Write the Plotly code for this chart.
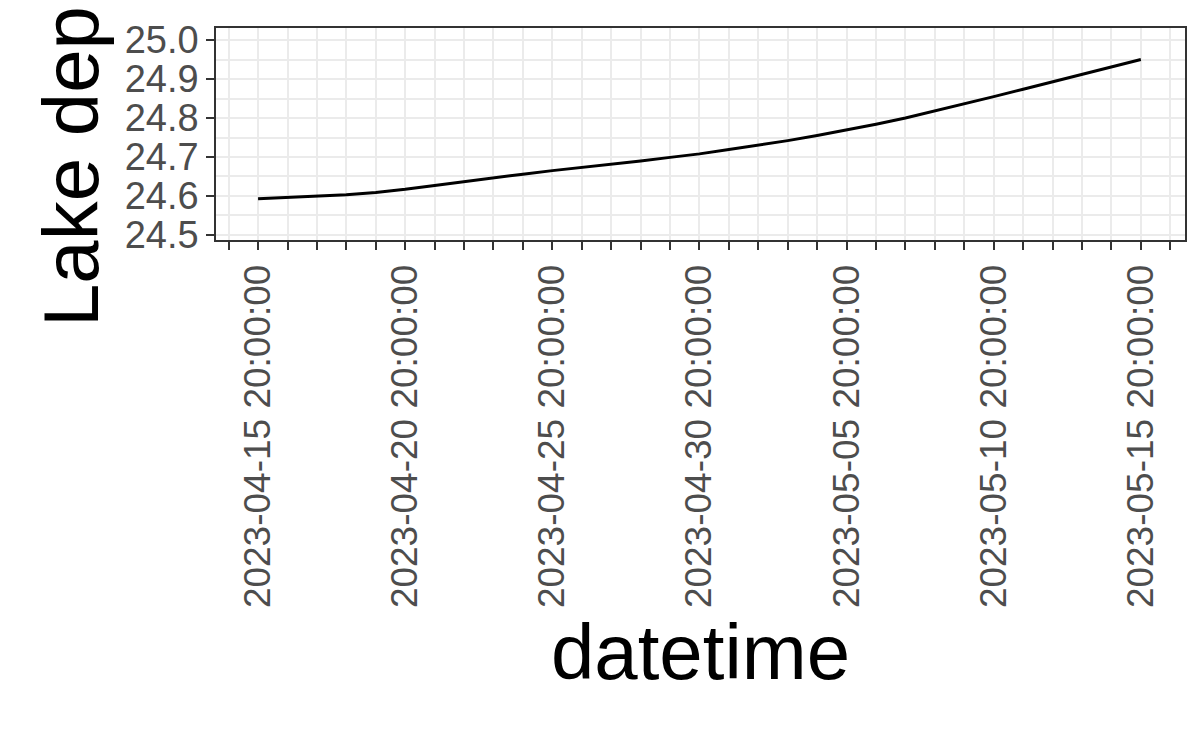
import pandas as pd
import plotly.graph_objects as go

dates = pd.date_range("2023-04-15 20:00:00", "2023-05-15 20:00:00", freq="D")
depth = [
    24.593, 24.596, 24.599, 24.603, 24.609, 24.617, 24.627, 24.637, 24.647, 24.656,
    24.665, 24.673, 24.681, 24.690, 24.699, 24.708, 24.719, 24.730, 24.742, 24.755,
    24.769, 24.784, 24.800, 24.818, 24.836, 24.855, 24.874, 24.893, 24.912, 24.931,
    24.950,
]

fig = go.Figure(go.Scatter(x=dates, y=depth, mode="lines", line={"color": "black", "width": 3}))

day = 86400000
fig.update_layout(
    width=1200,
    height=741,
    plot_bgcolor="white",
    paper_bgcolor="white",
    showlegend=False,
    margin={"l": 208, "r": 23, "t": 20, "b": 509},
    font={"family": "Liberation Sans, Arial, sans-serif"},
)
fig.update_xaxes(
    automargin=False,
    range=[dates[0] - pd.Timedelta(days=1.43), dates[-1] + pd.Timedelta(days=1.5)],
    tick0="2023-04-15 20:00:00",
    dtick=5 * day,
    tickformat="%Y-%m-%d %H:%M:%S",
    tickangle=-90,
    tickfont={"size": 37, "color": "#4d4d4d"},
    ticks="outside",
    ticklen=8,
    tickwidth=2,
    tickcolor="#333333",
    showgrid=True,
    gridcolor="#ebebeb",
    gridwidth=2,
    minor={"dtick": day, "tick0": "2023-04-15 20:00:00", "showgrid": True, "gridcolor": "#ebebeb",
           "gridwidth": 2, "ticks": "outside", "ticklen": 8, "tickwidth": 2, "tickcolor": "#333333"},
    showline=True,
    linecolor="#333333",
    linewidth=1.5,
    mirror=True,
    title={"text": "datetime", "font": {"size": 78, "color": "black"}, "standoff": 0},
)
fig.update_yaxes(
    automargin=False,
    range=[24.487, 25.031],
    dtick=0.1,
    tickformat=".1f",
    tickfont={"size": 38, "color": "#4d4d4d"},
    ticks="outside",
    ticklen=8,
    tickwidth=2,
    tickcolor="#333333",
    showgrid=True,
    gridcolor="#ebebeb",
    gridwidth=2,
    minor={"dtick": 0.05, "showgrid": True, "gridcolor": "#ebebeb", "gridwidth": 1.5},
    showline=True,
    linecolor="#333333",
    linewidth=1.5,
    mirror=True,
    title={"text": "Lake depth", "font": {"size": 78, "color": "black"}, "standoff": 0},
)

fig.write_html("out.html")
